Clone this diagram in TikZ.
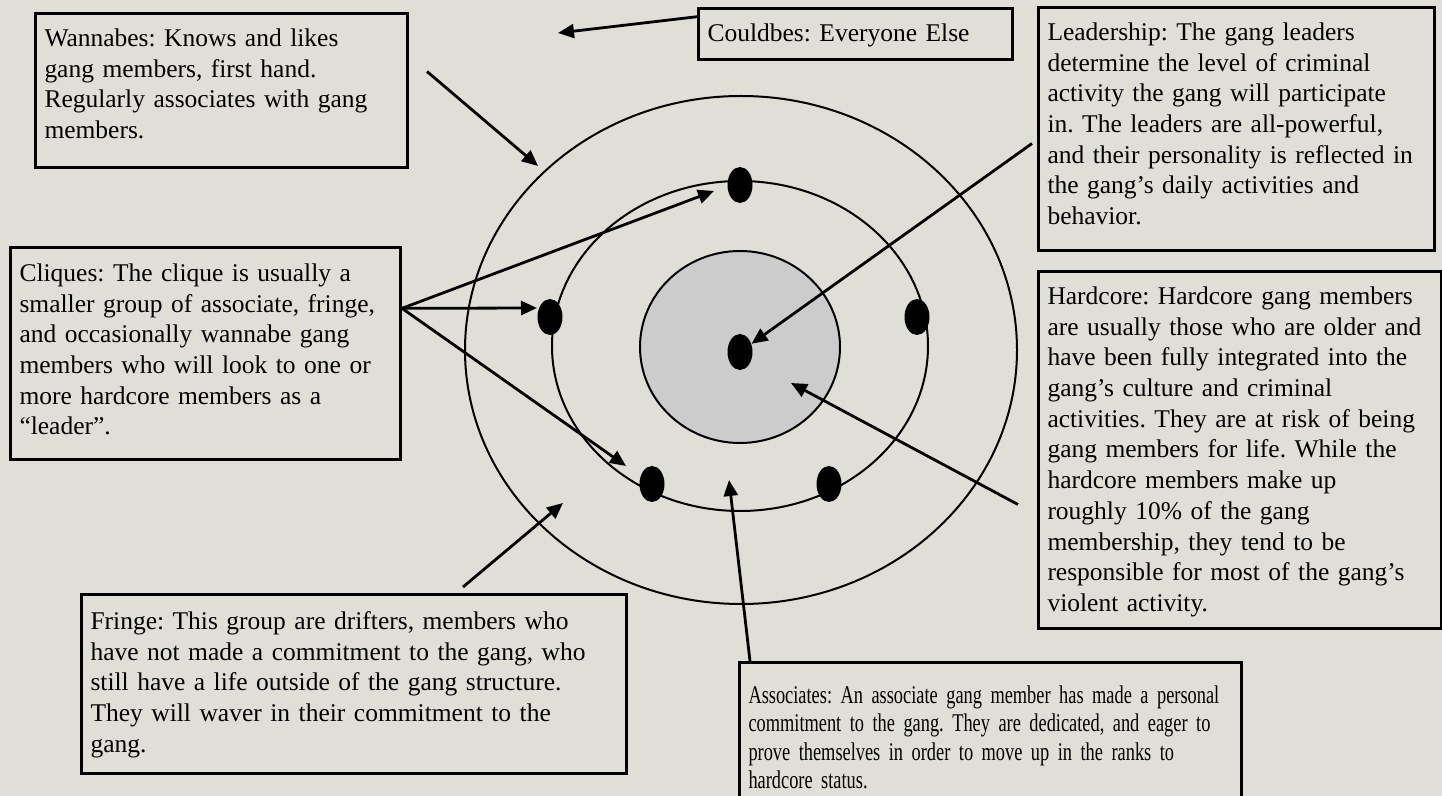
\documentclass[tikz,border=0pt]{standalone}
\usepackage{fontspec}
\setmainfont{Liberation Serif}
\newfontfamily\narrowserif[FakeStretch=0.72]{Liberation Serif}
\usetikzlibrary{arrows.meta,shapes.geometric,calc}
\definecolor{paper}{RGB}{223,223,215}
\definecolor{core}{RGB}{204,204,204}
\frenchspacing
\hyphenpenalty=10000
\exhyphenpenalty=10000

\begin{document}
\begin{tikzpicture}[x=0.5pt, y=-0.5pt,
    note/.style={draw, line width=1.5pt, anchor=north west, align=left, inner xsep=4.5pt, inner ysep=0pt,
      text height=16.5pt, font=\fontsize{12.75}{15.35}\selectfont},
    ring/.style={line width=1pt},
    member/.style={ellipse, fill=black, minimum width=12.5pt, minimum height=18pt, inner sep=0pt},
    pointer/.style={line width=1.4pt, -{Triangle[length=8pt,width=7pt]}}
  ]
  \fill[paper] (0,0) rectangle (1442,796);
  \useasboundingbox (0,0) rectangle (1442,796);

  % rings
  \draw[ring] (741,350) ellipse [x radius=138pt, y radius=127pt];
  \draw[ring] (740,346) ellipse [x radius=94pt, y radius=82.5pt];
  \draw[ring, fill=core] (740,347) ellipse [x radius=50pt, y radius=48pt];
  \foreach \name/\x/\y in {top/740/185,left/550/317,right/917/317,centre/740/352,lowleft/652/484,lowright/829/484} {
    \node[member] (d\name) at (\x,\y) {};
  }

  % boxes
  \node[note, text width=177pt, text depth=60.5pt] (wannabes) at (34,12)
    {Wannabes: Knows and likes\\gang members, first hand.\\Regularly associates with gang\\members.};
  \node[note, text width=148pt, text depth=9pt] (couldbes) at (697,7) {Couldbes: Everyone Else};
  \node[note, text width=189pt, text depth=105pt] (leadership) at (1037,6)
    {Leadership: The gang leaders\\determine the level of criminal\\activity the gang will participate\\in. The leaders are all-powerful,\\and their personality is reflected in\\the gang’s daily activities and\\behavior.};
  \node[note, text width=186pt, text height=17pt, text depth=89pt] (cliques) at (9,246)
    {Cliques: The clique is usually a\\smaller group of associate, fringe,\\and occasionally wannabe gang\\members who will look to one or\\more hardcore members as a\\“leader”.};
  \node[note, text width=192.5pt, text depth=162pt] (hardcore) at (1037,270)
    {Hardcore: Hardcore gang members\\are usually those who are older and\\have been fully integrated into the\\gang’s culture and criminal\\activities. They are at risk of being\\gang members for life. While the\\hardcore members make up\\roughly 10\% of the gang\\membership, they tend to be\\responsible for most of the gang’s\\violent activity.};
  \node[note, text width=263.5pt, text height=17.5pt, text depth=72pt] (fringe) at (80,593)
    {Fringe: This group are drifters, members who\\have not made a commitment to the gang, who\\still have a life outside of the gang structure.\\They will waver in their commitment to the\\gang.};
  \node[note, text width=242pt, text height=20.5pt, text depth=57pt,
    font=\narrowserif\fontsize{12.75}{14.15}\selectfont] (associates) at (738,661)
    {Associates: An associate gang member has made a personal\\commitment to the gang. They are dedicated, and eager to\\prove themselves in order to move up in the ranks to\\hardcore status.};

  % arrow ends
  \coordinate (cbtip) at (558,33);
  \coordinate (wbtip) at (538,166);
  \coordinate (cqtop) at (714,191);
  \coordinate (cqleft) at (537,308);
  \coordinate (cqlow) at (626,466);
  \coordinate (frtip) at (563,503);
  \coordinate (astip) at (729,480);
  \coordinate (hctip) at (791,383);
  \coordinate (cqfrom) at ($(cliques.north east)!.29!(cliques.south east)$);

  \draw[pointer] ($(couldbes.north west)!.18!(couldbes.south west)$) -- (cbtip);
  \draw[pointer] ($(wannabes.east)+(18,-19)$) -- (wbtip);
  \foreach \t in {cqtop,cqleft,cqlow}
    \draw[pointer] (cqfrom) -- (\t);
  \draw[pointer] ($(fringe.north west)+(383,-6)$) -- (frtip);
  \draw[pointer] ($(associates.north west)+(12,0)$) -- (astip);
  \draw[pointer] ($(hardcore.west)+(-19,54.5)$) -- (hctip);
  \draw[pointer] ($(leadership.west)+(-5,14.5)$) -- (dcentre);
\end{tikzpicture}
\end{document}
